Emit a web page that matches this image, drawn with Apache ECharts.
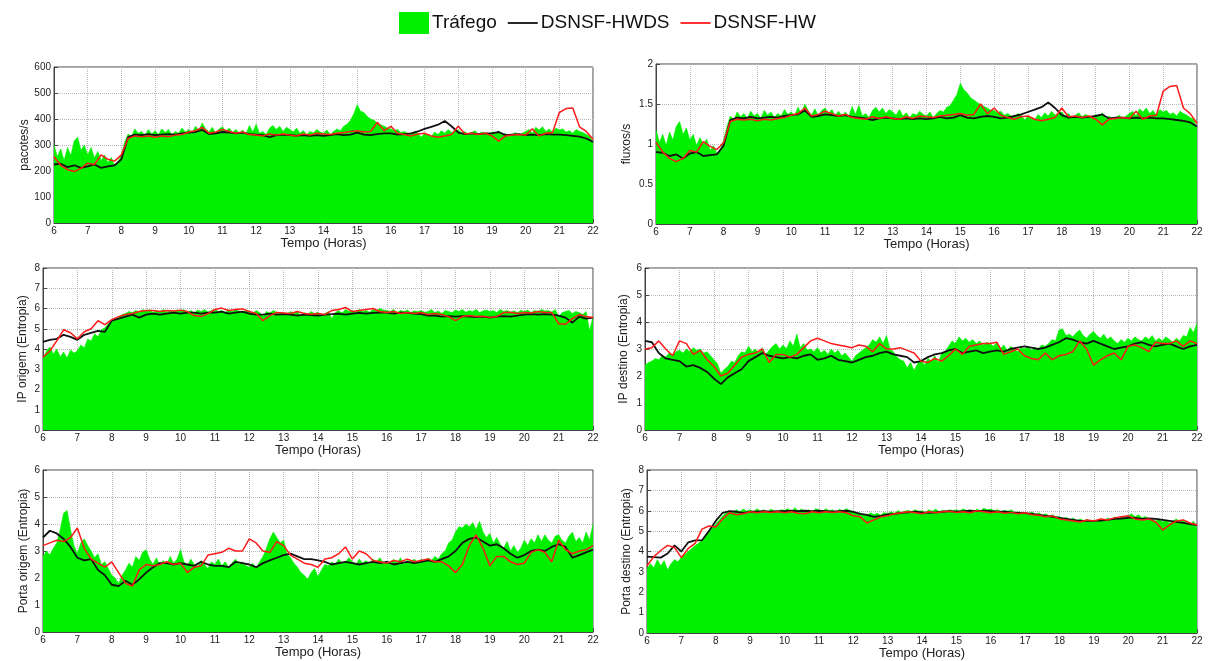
<!DOCTYPE html>
<html>
<head>
<meta charset="utf-8">
<script src="https://cdn.jsdelivr.net/npm/echarts@6/dist/echarts.min.js"></script>
<style>html,body{margin:0;padding:0;background:#fff}#c{width:1216px;height:661px}</style>
</head>
<body>
<div id="c"></div>
<script>
// ---- DATA ----
var legendNames = ['Tráfego', 'DSNSF-HWDS', 'DSNSF-HW'];
var xLabelName = 'Tempo (Horas)';
var yNames = ['pacotes/s', 'fluxos/s', 'IP origem (Entropia)', 'IP destino (Entropia)', 'Porta origem (Entropia)', 'Porta destino (Entropia)'];
var yMax = [600, 2, 8, 6, 6, 8];
var yStep = [100, 0.5, 1, 1, 1, 1];
var startHour = 6, endHour = 22;
var trafficStep = 0.1, lineStep = 0.2;

// Panel 1: pacotes/s
var traf1 = [300,255,285,240,290,260,315,330,280,300,
 262,290,250,275,240,262,232,252,222,235,
 262,312,342,332,362,345,352,335,360,342,
 355,340,362,348,360,338,352,345,365,350,
 360,348,372,355,385,362,350,368,345,362,
 370,352,365,348,360,345,358,342,375,350,
 380,345,352,340,365,375,360,372,352,368,
 360,350,365,345,355,340,352,346,360,350,
 345,358,340,352,362,355,372,380,395,420,
 455,430,425,410,400,395,385,378,372,365,
 362,355,360,348,352,345,340,352,346,330,
 345,338,332,350,340,355,345,360,348,352,
 358,345,352,340,348,355,342,350,345,338,
 350,342,355,338,345,332,340,348,336,345,
 352,360,345,368,358,370,352,362,348,365,
 358,362,350,355,345,360,352,348,340,335,
 310];
var hwds1 = [225,228,215,222,212,218,225,212,218,222,
 245,330,340,338,342,338,340,342,340,345,
 348,350,358,342,345,350,348,345,348,342,
 340,338,330,338,340,338,336,338,335,338,
 335,338,342,338,340,348,340,338,342,345,
 345,340,342,345,352,362,370,378,392,372,
 348,342,345,342,345,345,350,338,340,342,
 338,340,338,342,340,340,338,335,332,325,
 312];
var hw1 = [255,222,205,198,210,230,225,262,245,238,
 262,325,335,332,335,330,335,332,338,340,
 350,355,368,345,350,360,352,345,350,340,
 338,335,342,338,342,338,335,342,338,345,
 342,340,345,348,352,355,350,352,388,355,
 372,345,340,335,342,345,335,330,335,340,
 372,342,345,340,345,335,315,335,338,340,
 338,362,335,345,348,425,440,442,370,352,
 322];

// Panel 2: fluxos/s
var traf2 = [1.18,1.02,1.12,0.98,1.15,1.05,1.22,1.28,1.12,1.2,
 1.05,1.12,0.98,1.08,1.0,1.06,0.92,0.98,0.88,0.92,
 1.05,1.22,1.35,1.3,1.4,1.34,1.38,1.32,1.41,1.35,
 1.38,1.32,1.42,1.36,1.4,1.33,1.38,1.35,1.43,1.37,
 1.4,1.36,1.46,1.38,1.5,1.42,1.36,1.44,1.35,1.42,
 1.45,1.38,1.43,1.36,1.41,1.35,1.4,1.34,1.47,1.37,
 1.48,1.35,1.38,1.33,1.42,1.46,1.4,1.45,1.38,1.43,
 1.4,1.36,1.43,1.35,1.39,1.33,1.38,1.36,1.41,1.37,
 1.35,1.4,1.33,1.38,1.42,1.4,1.46,1.48,1.55,1.62,
 1.76,1.68,1.64,1.58,1.55,1.52,1.49,1.47,1.45,1.42,
 1.42,1.39,1.41,1.36,1.38,1.35,1.33,1.38,1.36,1.3,
 1.35,1.32,1.3,1.37,1.33,1.39,1.35,1.41,1.36,1.38,
 1.4,1.35,1.38,1.33,1.36,1.39,1.34,1.37,1.35,1.32,
 1.37,1.34,1.39,1.32,1.35,1.3,1.33,1.36,1.32,1.35,
 1.38,1.41,1.35,1.44,1.4,1.45,1.38,1.42,1.36,1.43,
 1.4,1.42,1.37,1.39,1.35,1.41,1.38,1.36,1.33,1.31,
 1.2];
var hwds2 = [0.9,0.89,0.85,0.87,0.82,0.88,0.9,0.85,0.86,0.87,
 0.98,1.3,1.33,1.32,1.34,1.32,1.33,1.34,1.33,1.35,
 1.36,1.37,1.42,1.34,1.35,1.37,1.36,1.35,1.36,1.34,
 1.33,1.32,1.3,1.32,1.33,1.32,1.31,1.32,1.31,1.32,
 1.31,1.32,1.34,1.32,1.33,1.36,1.33,1.32,1.34,1.35,
 1.34,1.32,1.33,1.35,1.37,1.4,1.43,1.46,1.52,1.45,
 1.36,1.33,1.34,1.33,1.34,1.35,1.37,1.32,1.33,1.33,
 1.32,1.33,1.32,1.33,1.32,1.32,1.31,1.3,1.29,1.27,
 1.22];
var hw2 = [1.02,0.9,0.82,0.78,0.82,0.92,0.9,1.03,0.97,0.93,
 1.02,1.28,1.31,1.3,1.31,1.29,1.31,1.3,1.32,1.33,
 1.36,1.38,1.45,1.35,1.37,1.41,1.38,1.35,1.37,1.33,
 1.32,1.31,1.34,1.32,1.34,1.32,1.31,1.34,1.32,1.35,
 1.34,1.33,1.35,1.36,1.37,1.38,1.36,1.37,1.5,1.38,
 1.45,1.36,1.33,1.31,1.34,1.35,1.31,1.29,1.31,1.33,
 1.45,1.34,1.35,1.33,1.35,1.31,1.24,1.31,1.32,1.33,
 1.32,1.41,1.31,1.35,1.36,1.66,1.72,1.73,1.45,1.38,
 1.26];

// Panel 3: IP origem (Entropia)
var traf3 = [3.5,3.9,4.1,3.75,4.0,3.6,3.85,3.55,3.95,3.8,
 3.9,4.2,4.05,4.5,4.4,4.75,4.6,4.95,5.05,5.25,
 5.35,5.5,5.55,5.7,5.75,5.85,5.8,5.9,5.82,5.95,
 5.85,5.95,5.8,5.9,5.85,5.95,5.82,5.9,5.85,5.92,
 5.88,5.95,5.8,5.9,5.78,5.92,5.85,5.95,5.82,5.9,
 5.95,5.85,5.9,5.8,5.92,5.85,5.95,5.88,5.8,5.9,
 5.85,5.75,5.9,5.8,5.6,5.85,5.78,5.9,5.82,5.75,
 5.8,5.72,5.85,5.75,5.88,5.6,5.8,5.7,5.85,5.75,
 5.82,5.6,5.75,5.85,5.5,5.8,5.9,5.78,5.95,5.85,
 5.9,5.8,5.95,5.85,5.9,5.82,5.95,5.88,6.0,5.92,
 5.9,5.85,5.95,5.8,5.9,5.85,5.92,5.8,5.88,5.85,
 5.9,5.82,5.85,5.95,5.8,5.88,5.75,5.9,5.85,5.8,
 5.92,5.85,5.95,5.82,5.9,5.85,5.95,5.8,5.88,5.92,
 5.85,5.9,5.8,5.95,5.85,5.9,5.82,5.88,5.8,5.9,
 5.85,5.92,5.8,5.9,5.85,5.95,5.88,5.9,5.82,5.95,
 5.6,5.8,5.85,5.9,5.75,5.85,5.8,5.7,5.85,4.9,
 5.6];
var hwds3 = [4.35,4.45,4.5,4.7,4.6,4.45,4.7,4.8,4.9,4.85,
 5.4,5.5,5.6,5.7,5.55,5.7,5.75,5.7,5.75,5.8,
 5.75,5.8,5.8,5.75,5.8,5.8,5.85,5.75,5.8,5.85,
 5.75,5.7,5.7,5.75,5.7,5.72,5.7,5.65,5.7,5.68,
 5.65,5.7,5.72,5.75,5.7,5.75,5.78,5.75,5.78,5.8,
 5.8,5.75,5.8,5.78,5.75,5.72,5.65,5.65,5.6,5.62,
 5.6,5.62,5.6,5.58,5.6,5.55,5.6,5.62,5.6,5.65,
 5.7,5.72,5.7,5.72,5.7,5.65,5.55,5.3,5.6,5.5,
 5.55];
var hw3 = [3.6,3.9,4.4,4.95,4.8,4.5,4.85,5.0,5.4,5.2,
 5.45,5.6,5.7,5.75,5.85,5.9,5.9,5.85,5.9,5.88,
 5.92,5.85,5.65,5.6,5.75,5.95,6.02,5.9,5.95,5.98,
 5.85,5.75,5.4,5.65,5.8,5.78,5.75,5.85,5.75,5.72,
 5.75,5.7,5.9,5.95,6.05,5.85,5.9,5.95,6.0,5.85,
 5.8,5.85,5.75,5.8,5.75,5.8,5.7,5.75,5.7,5.6,
 5.4,5.6,5.65,5.6,5.62,5.55,5.6,5.8,5.82,5.75,
 5.8,5.78,5.85,5.8,5.8,5.25,5.22,5.5,5.7,5.6,
 5.55];

// Panel 4: IP destino (Entropia)
var traf4 = [2.4,2.5,2.55,2.65,2.6,2.75,2.7,2.85,2.8,2.9,
 2.95,2.85,3.0,2.9,3.05,2.95,3.0,2.85,2.9,2.75,
 2.6,2.45,2.1,2.25,2.35,2.55,2.5,2.75,2.9,2.85,
 3.1,2.9,3.0,2.85,3.05,2.8,2.95,3.1,3.2,3.0,
 3.15,3.0,3.3,3.1,3.55,3.05,3.2,2.95,3.0,2.9,
 3.05,2.85,2.95,2.8,3.0,2.85,2.95,2.75,2.85,2.7,
 2.55,2.75,2.85,2.95,3.05,3.15,3.35,3.25,3.45,3.2,
 3.5,3.0,2.9,2.7,2.6,2.55,2.3,2.5,2.2,2.45,
 2.6,2.4,2.65,2.55,2.75,2.5,2.85,2.9,3.1,3.3,
 3.2,3.45,3.3,3.4,3.25,3.35,3.2,3.3,3.15,3.25,
 3.2,3.1,3.25,3.0,3.15,2.95,3.1,3.0,2.9,3.05,
 3.0,3.1,2.95,3.05,3.0,3.15,3.1,3.2,3.35,3.3,
 3.7,3.75,3.5,3.55,3.45,3.6,3.7,3.5,3.4,3.55,
 3.65,3.5,3.4,3.55,3.35,3.45,3.3,3.2,3.35,3.25,
 3.4,3.3,3.45,3.35,3.3,3.45,3.35,3.5,3.3,3.4,
 3.3,3.45,3.35,3.25,3.4,3.3,3.5,3.45,3.8,3.6,
 3.95];
var hwds4 = [3.3,3.25,2.85,2.65,2.6,2.55,2.35,2.4,2.3,2.15,
 1.9,1.7,1.95,2.1,2.25,2.55,2.7,2.85,2.75,2.7,
 2.65,2.7,2.65,2.75,2.8,2.6,2.65,2.75,2.6,2.55,
 2.5,2.6,2.7,2.75,2.85,2.9,2.8,2.75,2.7,2.5,
 2.55,2.7,2.8,2.85,2.95,3.0,2.85,2.9,2.95,2.85,
 2.9,2.95,2.9,3.0,3.05,3.1,3.05,3.0,3.05,3.15,
 3.25,3.4,3.35,3.25,3.2,3.3,3.2,3.1,3.0,3.05,
 3.1,3.2,3.25,3.15,3.1,3.15,3.2,3.1,3.0,3.1,
 3.15];
var hw4 = [3.0,3.05,3.3,3.0,2.75,3.3,3.2,2.8,2.95,2.6,
 2.35,2.0,2.1,2.4,2.7,2.8,2.85,3.0,2.5,2.8,
 2.8,2.7,2.8,3.05,3.3,3.4,3.3,3.2,3.15,3.1,
 3.05,3.15,3.1,2.9,3.2,3.0,3.0,3.05,2.95,2.85,
 2.55,2.5,2.65,2.55,2.75,3.0,2.8,3.1,3.15,3.2,
 3.2,3.25,2.8,2.9,3.0,2.75,2.65,2.6,2.85,2.6,
 2.75,2.8,2.9,3.3,3.0,2.4,2.6,2.75,2.85,2.6,
 3.1,3.15,3.05,2.9,3.25,3.2,3.2,3.3,3.1,3.3,
 3.2];

// Panel 5: Porta origem (Entropia)
var traf5 = [2.8,3.0,2.85,3.1,3.3,3.8,4.4,4.5,3.8,3.2,
 2.9,3.3,3.45,3.2,3.0,2.75,2.9,2.5,2.6,2.35,
 2.1,2.0,1.8,2.1,2.3,2.55,2.4,2.8,2.65,2.95,
 3.05,2.7,2.5,2.75,2.45,2.65,2.5,2.8,2.55,2.7,
 3.05,2.6,2.45,2.7,2.5,2.4,2.65,2.5,2.35,2.6,
 2.5,2.7,2.45,2.6,2.4,2.55,2.7,2.5,2.6,2.45,
 2.4,2.55,2.35,2.6,2.8,3.1,3.45,3.7,3.5,3.3,
 3.4,2.9,2.75,2.55,2.4,2.2,2.1,1.95,2.2,2.35,
 2.05,2.3,2.5,2.45,2.6,2.5,2.7,2.55,2.6,2.75,
 2.6,2.5,2.7,2.55,2.65,2.5,2.7,2.6,2.75,2.55,
 2.6,2.5,2.7,2.55,2.75,2.5,2.65,2.6,2.7,2.55,
 2.7,2.6,2.75,2.65,2.8,2.7,2.9,3.0,3.3,3.4,
 3.7,3.9,3.85,4.0,3.9,4.05,3.8,4.1,3.7,3.5,
 3.65,3.3,3.5,3.25,3.1,3.35,3.0,3.2,2.95,3.1,
 3.4,3.2,3.45,3.3,3.6,3.35,3.6,3.4,3.3,3.55,
 3.6,3.4,3.3,3.55,3.7,3.35,3.5,3.3,3.7,3.4,
 4.0];
var hwds5 = [3.5,3.75,3.65,3.45,3.15,2.75,2.65,2.7,2.3,2.1,
 1.75,1.7,1.9,1.75,1.95,2.2,2.4,2.55,2.55,2.5,
 2.55,2.5,2.45,2.6,2.5,2.45,2.45,2.4,2.6,2.55,
 2.5,2.4,2.55,2.65,2.75,2.85,2.9,2.8,2.7,2.7,
 2.65,2.6,2.5,2.55,2.6,2.55,2.5,2.55,2.6,2.55,
 2.6,2.5,2.55,2.6,2.55,2.6,2.65,2.6,2.7,2.8,
 3.0,3.3,3.45,3.5,3.35,3.2,3.25,3.1,2.9,2.75,
 2.85,3.0,3.05,3.0,3.15,3.25,3.15,2.75,2.85,2.95,
 3.05];
var hw5 = [3.2,3.3,3.4,3.35,3.5,3.85,3.1,2.7,2.55,2.4,
 2.6,2.2,1.8,1.7,2.3,2.5,2.45,2.5,2.6,2.5,
 2.55,2.2,2.4,2.45,2.85,2.9,2.95,3.1,3.0,3.0,
 3.45,3.3,3.0,2.95,3.35,3.2,2.85,2.7,2.55,2.5,
 2.4,2.7,2.75,2.9,3.15,2.7,3.0,2.9,2.65,2.6,
 2.55,2.65,2.6,2.7,2.6,2.65,2.7,2.6,2.6,2.45,
 2.2,2.5,3.2,3.6,3.1,2.45,2.8,2.8,2.6,2.5,
 2.55,2.95,3.05,2.95,2.6,3.4,3.05,2.9,3.0,3.05,
 3.2];

// Panel 6: Porta destino (Entropia)
var traf6 = [3.15,3.4,3.2,3.6,3.3,3.55,3.1,3.4,3.6,3.5,
 3.7,3.85,4.0,4.15,4.3,4.4,4.55,4.75,4.95,5.15,
 5.35,5.55,5.75,5.9,6.0,5.92,6.05,5.95,6.08,5.98,
 6.05,5.95,6.1,5.98,6.05,5.92,6.08,6.0,5.95,6.05,
 6.02,6.1,5.95,6.15,6.0,6.08,5.98,6.05,5.92,6.1,
 6.05,5.95,6.1,6.0,6.05,5.92,6.08,5.98,6.1,6.02,
 5.95,5.85,5.9,5.8,5.75,5.9,5.82,5.88,5.78,5.92,
 5.85,5.95,5.88,6.0,5.92,5.98,6.02,5.95,6.05,5.98,
 6.0,5.92,6.05,5.98,6.08,5.95,6.02,5.98,6.05,6.0,
 6.05,5.98,6.1,6.0,6.05,5.95,6.08,6.0,6.12,6.05,
 6.08,6.0,6.05,5.95,6.02,5.98,6.05,5.9,5.95,5.88,
 5.92,5.85,5.95,5.82,5.9,5.78,5.85,5.75,5.8,5.7,
 5.72,5.6,5.68,5.55,5.65,5.5,5.6,5.52,5.58,5.48,
 5.55,5.45,5.6,5.5,5.65,5.55,5.7,5.6,5.72,5.65,
 5.75,5.85,5.7,5.8,5.65,5.72,5.6,5.55,5.5,5.6,
 5.45,5.55,5.4,5.5,5.6,5.45,5.55,5.4,5.3,5.5,
 5.1];
var hwds6 = [3.75,3.72,3.7,3.9,4.3,4.0,4.45,4.55,4.55,5.0,
 5.5,5.9,5.98,5.95,5.9,5.95,5.95,5.98,5.95,5.98,
 5.98,6.0,5.98,6.0,5.98,6.0,5.98,5.95,5.98,6.0,
 5.95,5.85,5.8,5.7,5.75,5.82,5.85,5.9,5.92,5.95,
 5.92,5.9,5.92,5.95,5.98,5.95,5.98,6.0,5.98,6.0,
 5.98,5.95,5.95,5.92,5.9,5.88,5.85,5.8,5.75,5.7,
 5.65,5.6,5.55,5.5,5.5,5.5,5.52,5.55,5.6,5.62,
 5.65,5.65,5.6,5.62,5.6,5.55,5.5,5.45,5.4,5.35,
 5.3];
var hw6 = [3.3,3.75,4.05,4.3,4.2,3.7,4.15,4.4,5.1,5.25,
 5.2,5.6,5.9,5.8,5.85,5.95,5.9,5.95,5.92,5.95,
 5.9,5.95,5.88,5.85,5.95,5.9,5.95,5.92,5.95,5.9,
 5.75,5.7,5.4,5.55,5.7,5.75,5.85,5.9,5.95,5.9,
 5.85,5.95,5.9,5.95,5.98,5.92,5.95,5.9,6.0,5.95,
 5.9,5.95,5.88,5.92,5.85,5.9,5.8,5.78,5.7,5.75,
 5.6,5.55,5.5,5.45,5.55,5.5,5.6,5.55,5.65,5.7,
 5.75,5.6,5.55,5.6,5.45,5.05,5.3,5.5,5.55,5.4,
 5.3];

var trafficSets = [traf1, traf2, traf3, traf4, traf5, traf6];
var hwdsSets = [hwds1, hwds2, hwds3, hwds4, hwds5, hwds6];
var hwSets = [hw1, hw2, hw3, hw4, hw5, hw6];

// ---- LAYOUT / STYLE ----
var grids = [
  {left: 54, top: 67, width: 539, height: 156},
  {left: 656, top: 64, width: 541, height: 160},
  {left: 43, top: 268, width: 550, height: 162},
  {left: 645, top: 268, width: 552, height: 162},
  {left: 43, top: 470, width: 550, height: 162},
  {left: 647, top: 470, width: 550, height: 163}
];
var yNameGaps = [22, 23, 14, 15, 13, 14];

function pairs(arr, step) {
  return arr.map(function (v, i) { return [Math.round((startHour + i * step) * 100) / 100, v]; });
}

var FONT = 'Liberation Sans, Arial, sans-serif';
var GREEN = '#00f000';
var LINE_ICON = 'path://M0,0 L40,0 L40,2.4 L0,2.4 Z';
var option = {
  animation: false,
  backgroundColor: '#fff',
  textStyle: {fontFamily: FONT},
  legend: {
    top: 7, left: 394,
    itemWidth: 30, itemHeight: 22, itemGap: 11,
    textStyle: {fontSize: 19, color: '#111', fontFamily: FONT, padding: [0, 0, 0, -2]},
    data: [
      {name: legendNames[0], icon: 'rect'},
      {name: legendNames[1], icon: LINE_ICON},
      {name: legendNames[2], icon: LINE_ICON}
    ]
  },
  grid: [], xAxis: [], yAxis: [], series: []
};

grids.forEach(function (g, k) {
  option.grid.push({left: g.left, top: g.top, width: g.width, height: g.height,
    show: true, borderColor: '#444', borderWidth: 1, containLabel: false});
  option.xAxis.push({
    type: 'value', gridIndex: k, min: startHour, max: endHour, interval: 1,
    name: xLabelName, nameLocation: 'middle', nameGap: 13,
    nameTextStyle: {fontSize: 13, color: '#222', fontFamily: FONT},
    axisLine: {show: true, onZero: false, lineStyle: {color: '#444', width: 1}},
    axisTick: {show: true, inside: true, length: 4, lineStyle: {color: '#444'}},
    axisLabel: {fontSize: 10, color: '#222', margin: 3, fontFamily: FONT},
    splitLine: {show: true, lineStyle: {type: 'dotted', color: '#b8b8b8', width: 1}}
  });
  option.yAxis.push({
    type: 'value', gridIndex: k, min: 0, max: yMax[k], interval: yStep[k],
    name: yNames[k], nameLocation: 'middle', nameGap: yNameGaps[k],
    nameTextStyle: {fontSize: 12, color: '#222', fontFamily: FONT},
    axisLine: {show: true, lineStyle: {color: '#444', width: 1}},
    axisTick: {show: true, inside: true, length: 4, lineStyle: {color: '#444'}},
    axisLabel: {fontSize: 10, color: '#222', margin: 3, fontFamily: FONT},
    splitLine: {show: true, lineStyle: {type: 'dotted', color: '#b8b8b8', width: 1}}
  });
  option.series.push({
    name: legendNames[0], type: 'line', xAxisIndex: k, yAxisIndex: k,
    data: pairs(trafficSets[k], trafficStep), symbol: 'none',
    lineStyle: {width: 0.6, color: GREEN}, itemStyle: {color: GREEN},
    areaStyle: {color: GREEN, opacity: 1}, z: 2
  });
  option.series.push({
    name: legendNames[1], type: 'line', xAxisIndex: k, yAxisIndex: k,
    data: pairs(hwdsSets[k], lineStep), symbol: 'none',
    lineStyle: {width: 1.8, color: '#111'}, itemStyle: {color: '#111'}, z: 3
  });
  option.series.push({
    name: legendNames[2], type: 'line', xAxisIndex: k, yAxisIndex: k,
    data: pairs(hwSets[k], lineStep), symbol: 'none',
    lineStyle: {width: 1.5, color: '#ff1a1a'}, itemStyle: {color: '#ff1a1a'}, z: 4
  });
});

var chart = echarts.init(document.getElementById('c'), null, {renderer: 'canvas'});
chart.setOption(option);
</script>
</body>
</html>
